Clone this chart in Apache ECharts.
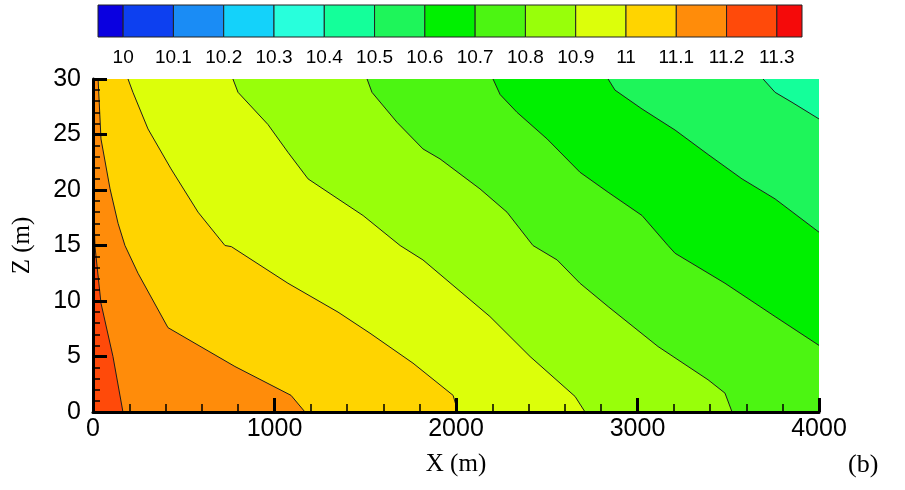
<!DOCTYPE html>
<html>
<head>
<meta charset="utf-8">
<script src="https://cdn.jsdelivr.net/npm/echarts@6/dist/echarts.min.js"></script>
<style>
  html, body { margin: 0; padding: 0; background: #fff; }
  #chart { width: 905px; height: 490px; }
</style>
</head>
<body>
<div id="chart"></div>
<script>
// colour bar: level edges and the colour of each band
const cbEdges = [9.95, 10, 10.1, 10.2, 10.3, 10.4, 10.5, 10.6, 10.7, 10.8, 10.9, 11, 11.1, 11.2, 11.3, 11.35];
const cbColors = ['#0a00e0', '#0d40f0', '#1a8cf5', '#14d2fa', '#28ffdc', '#14ff9a', '#1ef55a', '#00f000',
  '#4cf512', '#98ff0a', '#dcff0a', '#ffd400', '#ff8c0a', '#ff4a0a', '#f50a0a'];
const cbTicks = [10, 10.1, 10.2, 10.3, 10.4, 10.5, 10.6, 10.7, 10.8, 10.9, 11, 11.1, 11.2, 11.3];

const xTicks = [0, 1000, 2000, 3000, 4000];
const zTicks = [0, 5, 10, 15, 20, 25, 30];

// contour lines [X (m), Z (m)]
const levels = [10.5, 10.6, 10.7, 10.8, 10.9, 11.0, 11.1, 11.2];
const c105 = [[3692, 30], [3758, 28.8], [3851, 27.9], [4000, 26.4]];
const c106 = [[2838, 30], [2876, 29.0], [3025, 27.3], [3207, 25.4], [3389, 23.2], [3576, 21.0], [3758, 19.2], [4000, 16.2]];
const c107 = [[2204, 30], [2243, 28.6], [2336, 27.0], [2502, 24.6], [2683, 21.6], [2838, 19.8], [3025, 17.7],
  [3168, 15.0], [3207, 14.3], [3482, 11.6], [3758, 8.6], [4000, 6.0]];
const c108 = [[1510, 30], [1537, 28.8], [1675, 26.1], [1818, 23.7], [1912, 22.8], [2132, 20.1], [2281, 18.0],
  [2424, 15.0], [2557, 13.7], [2683, 11.6], [2838, 9.5], [3113, 5.9], [3389, 2.9], [3482, 1.7], [3521, 0]];
const c109 = [[771, 30], [799, 28.8], [964, 25.9], [1074, 23.4], [1185, 21.0], [1350, 19.2], [1488, 17.7],
  [1692, 15.0], [1818, 13.7], [2187, 8.6], [2408, 5.0], [2656, 1.4], [2711, 0]];
const c110 = [[193, 30], [220, 28.8], [303, 25.5], [430, 21.9], [579, 18.0], [727, 15.0], [762, 14.9],
  [1074, 11.6], [1350, 9.0], [1526, 7.1], [1763, 4.4], [1984, 1.5], [2011, 0]];
const c111 = [[28, 30], [44, 24.6], [94, 20.1], [138, 17.0], [176, 15.0], [248, 12.5], [413, 7.6],
  [782, 4.1], [1091, 1.5], [1168, 0]];
const c112 = [[0, 20], [11, 14.9], [44, 9.8], [110, 5.0], [165, 0]];
const contours = [c105, c106, c107, c108, c109, c110, c111, c112];

const chart = echarts.init(document.getElementById('chart'));

const axisFont = { fontFamily: 'Liberation Sans', fontSize: 25, color: '#000' };
const nameFont = { fontFamily: 'Liberation Serif', fontSize: 25, color: '#000' };

// colour of the band just above a level
function bandColor(level) {
  const i = cbTicks.findIndex(t => Math.abs(t - level) < 1e-6);
  return cbColors[i + 1];
}

const fillSeries = {
  type: 'custom',
  xAxisIndex: 0,
  yAxisIndex: 0,
  silent: true,
  clip: true,
  z: 1,
  data: contours.map(c => c[0]),
  renderItem: function (params, api) {
    const line = contours[params.dataIndex];
    const pts = line.map(p => api.coord(p));
    const last = line[line.length - 1];
    if (last[0] >= 4000 && last[1] > 0) pts.push(api.coord([4000, 0]));
    pts.push(api.coord([0, 0]));
    if (line[0][1] >= 30) pts.push(api.coord([0, 30]));
    return {
      type: 'polygon',
      shape: { points: pts },
      style: { fill: bandColor(levels[params.dataIndex]), stroke: null }
    };
  }
};

const baseSeries = {
  type: 'custom',
  xAxisIndex: 0,
  yAxisIndex: 0,
  silent: true,
  z: 0,
  data: [[0, 0]],
  renderItem: function (params, api) {
    const a = api.coord([0, 30]);
    const b = api.coord([4000, 0]);
    return {
      type: 'rect',
      shape: { x: a[0], y: a[1], width: b[0] - a[0], height: b[1] - a[1] },
      style: { fill: bandColor(10.4) }
    };
  }
};

const lineSeries = contours.map(c => ({
  type: 'line',
  xAxisIndex: 0,
  yAxisIndex: 0,
  data: c,
  showSymbol: false,
  silent: true,
  z: 3,
  lineStyle: { color: '#1e1e1e', width: 1 }
}));

const colorbarSeries = {
  type: 'custom',
  xAxisIndex: 1,
  yAxisIndex: 1,
  silent: true,
  data: cbColors.map((c, i) => [cbEdges[i], cbEdges[i + 1]]),
  renderItem: function (params, api) {
    const a = api.coord([api.value(0), 1]);
    const b = api.coord([api.value(1), 0]);
    return {
      type: 'rect',
      shape: { x: a[0], y: a[1], width: b[0] - a[0], height: b[1] - a[1] },
      style: { fill: cbColors[params.dataIndex], stroke: '#222', lineWidth: 1 }
    };
  }
};

chart.setOption({
  animation: false,
  backgroundColor: '#fff',
  grid: [
    { left: 93, right: 86, top: 79, bottom: 78 },
    { left: 98, width: 704, top: 5, height: 32 }
  ],
  xAxis: [
    {
      type: 'value', gridIndex: 0, min: 0, max: 4000, interval: 1000, z: 10,
      name: 'X (m)', nameLocation: 'middle', nameGap: 40, nameTextStyle: nameFont,
      axisLine: { show: true, onZero: false, lineStyle: { color: '#000', width: 3 } },
      axisTick: { inside: true, length: 14, lineStyle: { color: '#000', width: 3 } },
      minorTick: { show: true, splitNumber: 5, length: 8, lineStyle: { color: '#000', width: 1.5 } },
      axisLabel: Object.assign({ margin: 5, customValues: xTicks, formatter: v => String(v) }, axisFont),
      splitLine: { show: false }
    },
    {
      type: 'value', gridIndex: 1, min: 9.95, max: 11.35,
      axisLine: { show: false },
      axisTick: { show: false },
      splitLine: { show: false },
      axisLabel: {
        margin: 11, customValues: cbTicks, fontFamily: 'Liberation Sans', fontSize: 19, color: '#000',
        formatter: v => String(Math.round(v * 10) / 10)
      }
    }
  ],
  yAxis: [
    {
      type: 'value', gridIndex: 0, min: 0, max: 30, interval: 5, z: 10,
      name: 'Z (m)', nameLocation: 'middle', nameGap: 58, nameTextStyle: nameFont,
      axisLine: { show: true, onZero: false, lineStyle: { color: '#000', width: 3 } },
      axisTick: { inside: true, length: 14, lineStyle: { color: '#000', width: 3 } },
      minorTick: { show: true, splitNumber: 5, length: 7, lineStyle: { color: '#000', width: 1.5 } },
      axisLabel: Object.assign({ margin: 12, customValues: zTicks }, axisFont),
      splitLine: { show: false }
    },
    {
      type: 'value', gridIndex: 1, min: 0, max: 1, show: false
    }
  ],
  graphic: [
    {
      type: 'text', left: 848, top: 452,
      style: { text: '(b)', font: '26px "Liberation Serif"', fill: '#000' }
    }
  ],
  series: [baseSeries, fillSeries].concat(lineSeries, [colorbarSeries])
});
</script>
</body>
</html>
